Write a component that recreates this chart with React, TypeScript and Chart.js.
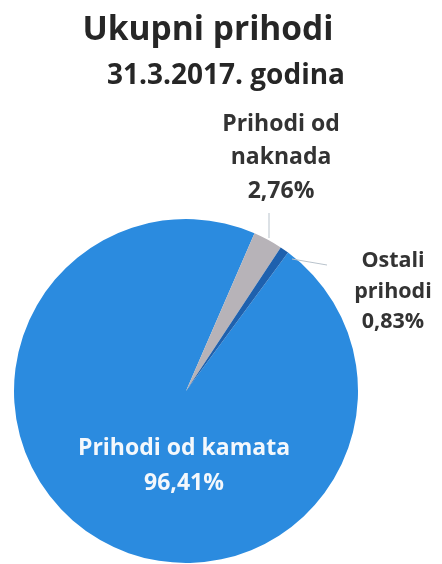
import React, { useEffect, useRef } from "react";
import { Chart, registerables } from "chart.js";

Chart.register(...registerables);

const titleText = "Ukupni prihodi";
const subtitleText = "31.3.2017. godina";
const categories = ["Prihodi od kamata", "Prihodi od naknada", "Ostali prihodi"];
const categoryLines = [["Prihodi od kamata"], ["Prihodi od", "naknada"], ["Ostali", "prihodi"]];
const values = [96.41, 2.76, 0.83];
const colors = ["#2B8BDF", "#B7B3B8", "#1E61AE"];

const FONT = "'Open Sans', Lato, sans-serif";

const fmt = (v: number) => v.toFixed(2).replace(".", ",") + "%";

const labelPlugin = {
  id: "customLabels",
  afterDraw(chart: any) {
    const ctx = chart.ctx as CanvasRenderingContext2D;
    ctx.save();
    ctx.textAlign = "center";
    ctx.textBaseline = "middle";
    // titles
    ctx.fillStyle = "#262626";
    ctx.font = `bold 33.5px ${FONT}`;
    ctx.fillText(titleText, 208, 30);
    ctx.font = `bold 28px ${FONT}`;
    ctx.fillText(subtitleText, 226, 76);

    const meta = chart.getDatasetMeta(0);
    const arc0 = meta.data[0];
    const cx = arc0.x;
    const cy = arc0.y;

    // leader lines
    ctx.strokeStyle = "#B9C3CC";
    ctx.lineWidth = 1;
    ctx.beginPath();
    ctx.moveTo(cx + 83, cy - 178);
    ctx.lineTo(cx + 83, cy - 153);
    ctx.stroke();
    ctx.beginPath();
    ctx.moveTo(cx + 106, cy - 132);
    ctx.lineTo(cx + 141, cy - 126);
    ctx.stroke();

    // kamata label (inside, white)
    ctx.fillStyle = "#F4F8FC";
    ctx.font = `bold 23px ${FONT}`;
    const l0 = [...categoryLines[0], fmt(values[0])];
    l0.forEach((t, i) => ctx.fillText(t, cx - 2, cy + 57 + i * 35));

    // naknada label
    ctx.fillStyle = "#333333";
    ctx.font = `bold 23px ${FONT}`;
    const l1 = [...categoryLines[1], fmt(values[1])];
    l1.forEach((t, i) => ctx.fillText(t, cx + 95, cy - 267 + i * 33.5));

    // ostali label
    ctx.font = `bold 21.5px ${FONT}`;
    const l2 = [...categoryLines[2], fmt(values[2])];
    l2.forEach((t, i) => ctx.fillText(t, cx + 207, cy - 130 + i * 30.5));
    ctx.restore();
  },
};

export default function App() {
  const ref = useRef<HTMLCanvasElement | null>(null);
  useEffect(() => {
    document.body.style.margin = "0";
    const canvas = ref.current;
    if (!canvas) return;
    const chart = new Chart(canvas, {
      type: "pie",
      data: {
        labels: categories,
        datasets: [
          {
            data: values,
            backgroundColor: colors,
            borderWidth: 0,
          },
        ],
      },
      options: {
        responsive: false,
        animation: false,
        rotation: 36.4,
        layout: { padding: { left: 14, right: 84, top: 219, bottom: 1 } },
        plugins: {
          legend: { display: false },
          tooltip: { enabled: false },
          title: { display: false },
        },
      },
      plugins: [labelPlugin],
    });
    return () => chart.destroy();
  }, []);
  return (
    <div style={{ width: 442, height: 564, background: "#fff" }}>
      <canvas ref={ref} width={442} height={564} style={{ display: "block" }} />
    </div>
  );
}
